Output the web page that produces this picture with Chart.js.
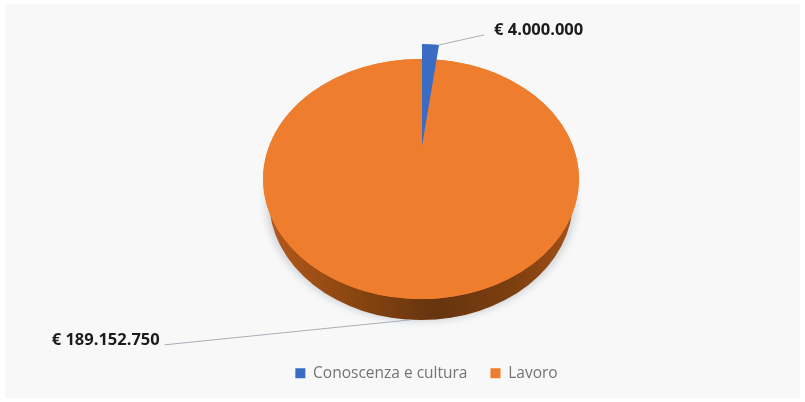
<!DOCTYPE html>
<html>
<head>
<meta charset="utf-8">
<script src="https://cdn.jsdelivr.net/npm/chart.js@4"></script>
<style>
  html, body { margin: 0; padding: 0; background: #fff; }
  #box { position: absolute; left: 0; top: 0; width: 805px; height: 402px; }
  canvas { filter: blur(0.7px); }
</style>
</head>
<body>
<div id="box"><canvas id="pieChart" width="805" height="402"></canvas></div>
<script>
var categories = ["Conoscenza e cultura", "Lavoro"];
var amounts = [4000000, 189152750];
var valueLabels = ["€ 4.000.000", "€ 189.152.750"];
var sliceColors = ["#3a6cc4", "#ef7d2e"];

// each slice gets its own squash so the pie reads like the tilted original
var tilts = [
  { x: 422, y: 146, scaleX: 0.83, scaleY: 0.645 },
  { x: 421, y: 179, scaleX: 1, scaleY: 0.76 },
];
var rimDepth = 21;

function applyTilt(ctx, arc, t) {
  ctx.translate(t.x, t.y);
  ctx.scale(t.scaleX, t.scaleY);
  ctx.translate(-arc.x, -arc.y);
}

var panelPlugin = {
  id: "panel",
  beforeDraw: function (chart) {
    var ctx = chart.ctx;
    ctx.save();
    ctx.fillStyle = "#f8f8f8";
    ctx.fillRect(5, 4, 795, 394);
    ctx.restore();
  },
};

var tiltPlugin = {
  id: "tilt",
  beforeDatasetsDraw: function (chart) {
    var ctx = chart.ctx;
    var arcs = chart.getDatasetMeta(0).data;
    var t = tilts[1];
    var r = arcs[1].outerRadius;
    var ry = r * t.scaleY;

    // soft shadow under the rim
    ctx.save();
    ctx.fillStyle = "rgba(150,160,170,0.35)";
    ctx.filter = "blur(3px)";
    ctx.beginPath();
    ctx.ellipse(t.x, t.y + rimDepth + 2, r - 2, ry, 0, 0, Math.PI * 2);
    ctx.fill();
    ctx.restore();

    // rim, darkest at the front
    var rim = ctx.createLinearGradient(t.x - r, 0, t.x + r, 0);
    rim.addColorStop(0, "#b9591c");
    rim.addColorStop(0.3, "#87450f");
    rim.addColorStop(0.55, "#66340f");
    rim.addColorStop(0.8, "#7d400f");
    rim.addColorStop(1, "#a9521a");
    ctx.save();
    ctx.fillStyle = rim;
    ctx.beginPath();
    ctx.ellipse(t.x, t.y + rimDepth, r - 6, ry, 0, 0, Math.PI * 2);
    ctx.fill();
    // top face, so the notch above the big slice does not show the panel
    ctx.fillStyle = sliceColors[1];
    ctx.beginPath();
    ctx.ellipse(t.x, t.y, r, ry, 0, 0, Math.PI * 2);
    ctx.fill();
    ctx.restore();

    [1, 0].forEach(function (i) {
      ctx.save();
      applyTilt(ctx, arcs[i], tilts[i]);
      arcs[i].draw(ctx);
      ctx.restore();
    });
    return false;
  },
};

var leaderPlugin = {
  id: "leaders",
  afterDraw: function (chart) {
    var ctx = chart.ctx;
    var arcs = chart.getDatasetMeta(0).data;
    var opts = chart.options.plugins.leaders;
    ctx.save();
    ctx.font = opts.font;
    ctx.fillStyle = "#1c1c1c";
    ctx.textBaseline = "middle";
    arcs.forEach(function (arc, i) {
      var t = tilts[i];
      var l = opts.lines[i];
      var angle = i === 0 ? arc.endAngle : (arc.startAngle + arc.endAngle) / 2;
      var lift = i === 0 ? 0 : rimDepth;
      var ax = t.x + Math.cos(angle) * arc.outerRadius * t.scaleX;
      var ay = t.y + Math.sin(angle) * arc.outerRadius * t.scaleY + lift;
      ctx.strokeStyle = "#a9b0b8";
      ctx.lineWidth = 1;
      ctx.beginPath();
      ctx.moveTo(ax, ay);
      ctx.lineTo(ax + l.dx, ay + l.dy);
      ctx.stroke();
      ctx.textAlign = l.dx > 0 ? "left" : "right";
      ctx.fillText(valueLabels[i], ax + l.dx + l.textX, ay + l.dy + l.textY);
    });
    ctx.restore();
  },
};

new Chart(document.getElementById("pieChart"), {
  type: "pie",
  data: {
    labels: categories,
    datasets: [
      {
        data: amounts,
        backgroundColor: sliceColors,
        borderWidth: 0,
      },
    ],
  },
  options: {
    responsive: false,
    animation: false,
    radius: 158,
    layout: { padding: { left: 48, bottom: 11 } },
    plugins: {
      tooltip: { enabled: false },
      legend: {
        position: "bottom",
        labels: {
          boxWidth: 10,
          boxHeight: 10,
          padding: 23,
          color: "#737373",
          font: { family: "'Open Sans'", size: 15.5 },
        },
      },
      leaders: {
        font: "bold 16.5px 'Open Sans'",
        lines: [
          { dx: 45, dy: -10, textX: 10, textY: -5 },
          { dx: -246, dy: 25, textX: -5, textY: -5 },
        ],
      },
    },
  },
  plugins: [panelPlugin, tiltPlugin, leaderPlugin],
});
</script>
</body>
</html>
